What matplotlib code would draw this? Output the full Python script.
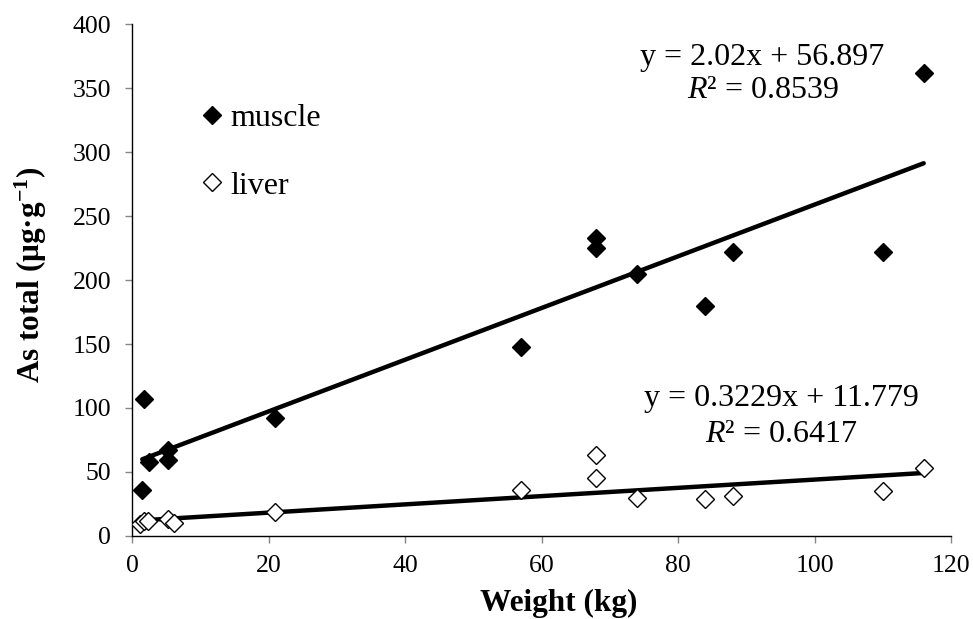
import matplotlib
matplotlib.use("Agg")
import matplotlib.pyplot as plt
import numpy as np

plt.rcParams["font.family"] = ["Liberation Serif", "DejaVu Serif"]
plt.rcParams["mathtext.fontset"] = "custom"
plt.rcParams["mathtext.rm"] = "Liberation Serif"
plt.rcParams["mathtext.it"] = "Liberation Serif:italic"
plt.rcParams["mathtext.bf"] = "Liberation Serif:bold"

# fish weight (kg) and total As (ug/g)
muscle_x = [1.5, 1.8, 2.5, 5.2, 5.3, 21, 57, 68, 68, 74, 84, 88, 110, 116]
muscle_y = [36, 107, 58, 67, 59, 92, 148, 233, 225, 205, 180, 222, 222, 362]
liver_x = [1.2, 1.8, 2.4, 5.3, 6.2, 21, 57, 68, 68, 74, 84, 88, 110, 116]
liver_y = [9, 12, 12, 13, 10, 19, 36, 63, 45, 30, 29, 31, 35, 53]

muscle_fit = (2.02, 56.897, 0.8539)
liver_fit = (0.3229, 11.779, 0.6417)

fig = plt.figure(figsize=(9.73, 6.19), dpi=100)
ax = fig.add_axes([0.1357, 0.1341, 0.8417, 0.8271])

ax.plot(muscle_x, muscle_y, "D", color="black", markersize=9.5, label="muscle", zorder=3)
ax.plot(liver_x, liver_y, "D", markerfacecolor="white", markeredgecolor="black",
        markeredgewidth=1.0, markersize=9.5, label="liver", zorder=3)

# linear trend lines
for xs, fit in [(muscle_x, muscle_fit), (liver_x, liver_fit)]:
    lx = np.array([min(xs), max(xs)])
    ax.plot(lx, fit[0] * lx + fit[1], color="black", linewidth=3.2,
            solid_capstyle="round", zorder=2)

ax.set_xlim(0, 120)
ax.set_ylim(0, 400)
ax.set_xticks(range(0, 121, 20))
ax.set_yticks(range(0, 401, 50))
for s in ["top", "right"]:
    ax.spines[s].set_visible(False)
for s in ["left", "bottom"]:
    ax.spines[s].set_linewidth(1.0)
ax.tick_params(direction="out", length=5, width=1, color="#868686",
               labelsize=18.5)
ax.tick_params(axis="y", pad=10)
ax.tick_params(axis="x", pad=9)

ax.set_xlabel("Weight (kg)", fontsize=22.5, fontweight="bold")
ax.set_ylabel(r"As total (μg·g$^{\mathbf{-1}}$)", fontsize=22.5, fontweight="bold")
ax.xaxis.set_label_coords(0.521, -0.131)
ax.xaxis.label.set_va("center")
ax.yaxis.set_label_coords(-0.124, 0.51)
ax.yaxis.label.set_va("center")

ax.text(92.3, 374, "y = 2.02x + 56.897", fontsize=23, ha="center", va="center")
ax.text(92.4, 348, r"$R$² = 0.8539", fontsize=23, ha="center", va="center")
ax.text(95.2, 107.6, "y = 0.3229x + 11.779", fontsize=23, ha="center", va="center")
ax.text(95.1, 79, r"$R$² = 0.6417", fontsize=23, ha="center", va="center")

ax.legend(loc="upper left", bbox_to_anchor=(0.067, 0.876), frameon=False,
          fontsize=23, handlelength=0.6, handletextpad=0.25, labelspacing=1.2,
          markerscale=1.0, borderpad=0)

fig.savefig("out.png", dpi=100)
